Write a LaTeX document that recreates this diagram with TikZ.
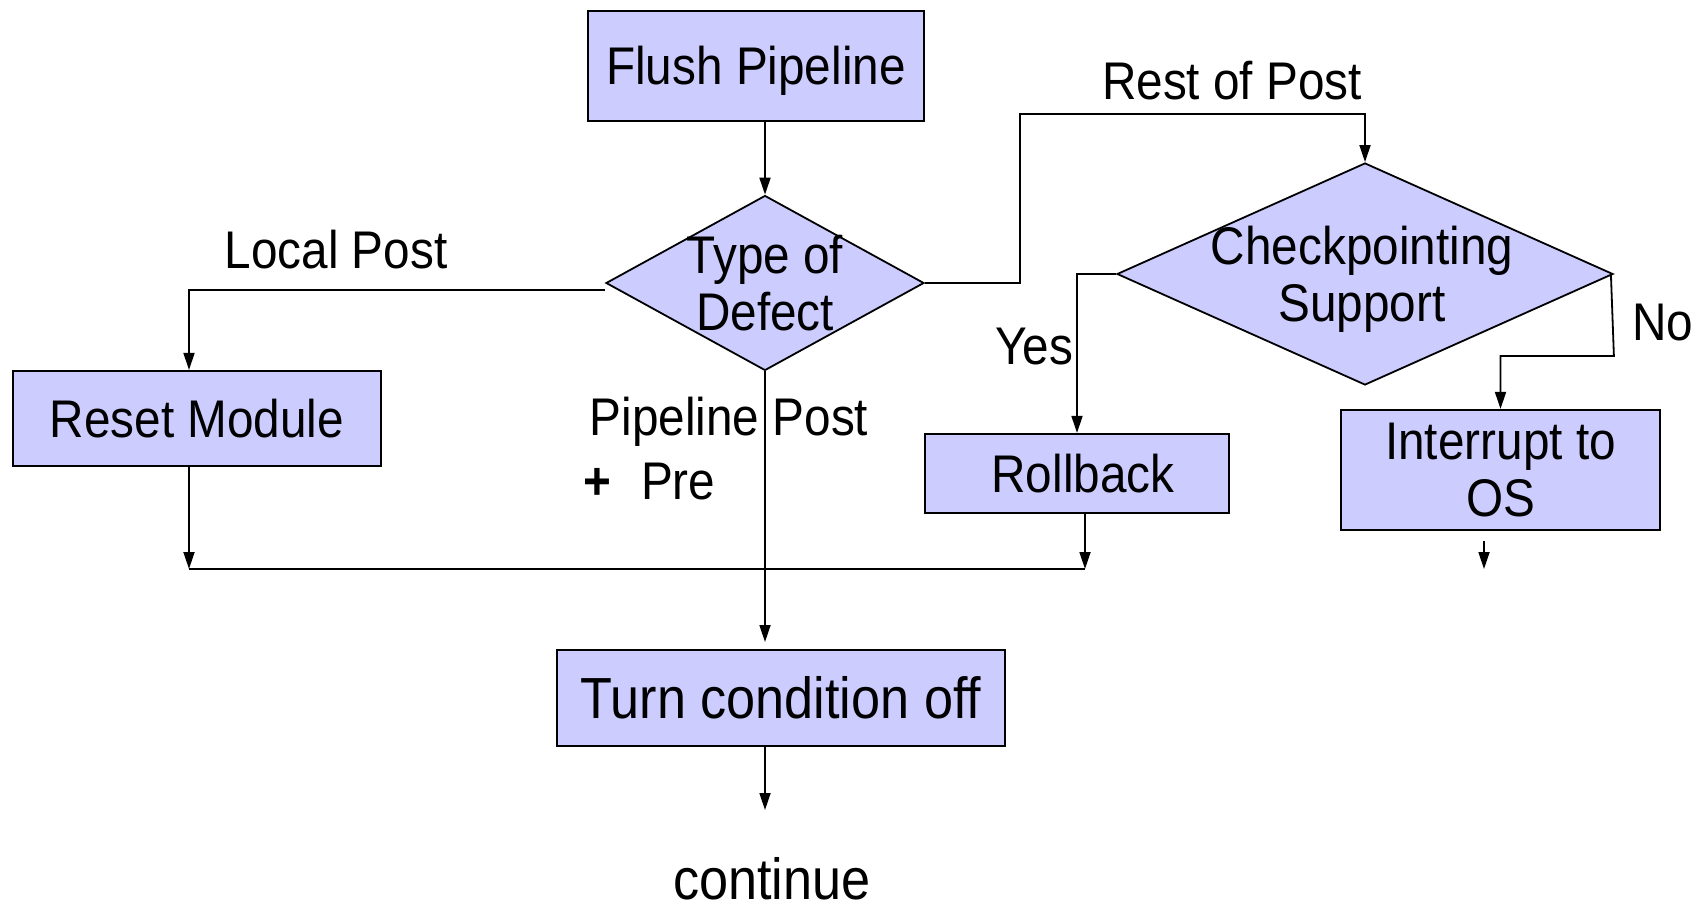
\documentclass[tikz,border=0pt]{standalone}
\usepackage{fontspec}
\setmainfont{Liberation Sans}[FakeStretch=0.9]
\usetikzlibrary{shapes.geometric,arrows.meta}
\definecolor{boxfill}{RGB}{204,204,255}
\begin{document}
\begin{tikzpicture}[x=1pt,y=-1pt,
  every node/.style={font=\fontsize{53}{57}\selectfont, inner sep=0pt},
  proc/.style={draw, line width=2.2pt, fill=boxfill, align=center},
  decision/.style={diamond, draw, line width=1.8pt, fill=boxfill},
  lbl/.style={anchor=base},
  big/.style={font=\fontsize{58}{62}\selectfont},
  flow/.style={line width=1.8pt, -{Triangle[length=17pt,width=11pt]}},
  link/.style={line width=1.8pt}
]
\useasboundingbox (0,0) rectangle (1705,909);

% process boxes and decisions
\node[proc, minimum width=336, minimum height=110, text height=48pt, text depth=10pt] (flush) at (756,66) {Flush Pipeline};
\node[decision, minimum width=318, minimum height=175] (defect) at (765,283) {};
\node[align=center] (defectText) at (765,283) {Type of\\Defect};
\node[decision, minimum width=496, minimum height=222] (checkpt) at (1365,274) {};
\node[align=center] (checkText) at (1362,279) {Checkpointing\\Support};
\node[proc, minimum width=368, minimum height=95] (reset) at (197,418.5) {Reset Module};
\node[proc, minimum width=304, minimum height=79] (rollback) at (1077,473.5) {\hspace*{12pt}Rollback};
\node[proc, minimum width=319, minimum height=120] (interrupt) at (1500.5,470) {Interrupt to\\OS};
\node[proc, big, minimum width=448, minimum height=96] (turnoff) at (781,698) {Turn condition off};
\node[lbl, big] (continue) at (772,899) {continue};

% branch labels
\node[lbl] (localLbl) at (336,269) {Local Post};
\node[lbl] (restLbl) at (1232,100) {Rest of Post};
\node[lbl] (yesLbl) at (1034,364) {Yes};
\node[lbl] (noLbl) at (1663,340) {No};
\node[lbl] (pipeLbl) at (729,435) {Pipeline Post};
\node[anchor=base west] (preLbl) at (583,499) {\textbf{+}\hspace{30pt}Pre};

% routing points
\coordinate (restBend) at (1020,114);
\coordinate (noBend) at (1610,356);
\coordinate (joinL) at (189,569);
\coordinate (joinR) at (1085,569);
\coordinate (turnIn) at (765,642);
\coordinate (contIn) at (765,810);
\coordinate (intStub) at (1484,541);
\coordinate (intOut) at (1484,569);

% connectors
\draw[flow] (flush.south -| defect.north) -- (defect.north);
\draw[flow] ([yshift=-7pt]defect.west) -| (reset.north -| joinL);
\draw[flow] (defect.east) -| (restBend) -| (checkpt.north);
\draw[flow] (checkpt.west) -| (rollback.north);
\draw[flow] ([xshift=-3pt]checkpt.east) -- (checkpt.east |- noBend) -| (interrupt.north);
\draw[flow] (reset.south -| joinL) -- (joinL);
\draw[flow] (rollback.south -| joinR) -- (joinR);
\draw[link] (joinL) -- (joinR);
\draw[flow] (defect.south) -- (turnIn);
\draw[flow] (turnoff.south -| contIn) -- (contIn);
\draw[flow] (intStub) -- (intOut);
\end{tikzpicture}
\end{document}
